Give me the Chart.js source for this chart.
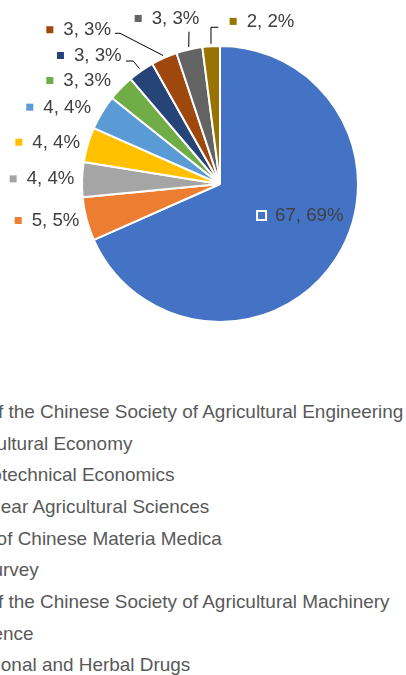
<!DOCTYPE html>
<html>
<head>
<meta charset="utf-8">
<script src="https://cdn.jsdelivr.net/npm/chart.js@4.4.1/dist/chart.umd.min.js"></script>
<style>
  html, body { margin:0; padding:0; background:#ffffff; }
  body { width:406px; height:675px; overflow:hidden; position:relative; font-family:"Liberation Sans", Arial, sans-serif; }
  #wrap { position:absolute; left:0; top:0; width:406px; height:368px; }
  #legend { position:absolute; left:-125.5px; top:396px; }
  .li { position:relative; height:31.67px; line-height:31.67px; font-size:18.94px; color:#595959; white-space:nowrap; }
  .li i { position:absolute; left:-17px; top:12px; width:7px; height:7px; }
</style>
</head>
<body>
<div id="wrap"><canvas id="c" width="406" height="368"></canvas></div>
<div id="legend"></div>
<script>
// ---- data ----
const categories = [
  "Transactions of the Chinese Society of Agricultural Engineering",
  "Issues in Agricultural Economy",
  "Journal of Agrotechnical Economics",
  "Journal of Nuclear Agricultural Sciences",
  "China Journal of Chinese Materia Medica",
  "China Rural Survey",
  "Transactions of the Chinese Society of Agricultural Machinery",
  "Ecological Science",
  "Chinese Traditional and Herbal Drugs",
  "Journal of China Agricultural University"
];
const counts   = [67, 5, 4, 4, 4, 3, 3, 3, 3, 2];
const percents = [69, 5, 4, 4, 4, 3, 3, 3, 3, 2];
const colors = ["#4472C4", "#ED7D31", "#A5A5A5", "#FFC000", "#5B9BD5",
                "#70AD47", "#264478", "#9E480E", "#636363", "#997300"];

// ---- label placement (relative to slice rim mid-point) ----
const labelLayout = [
  { dx: -60.6, dy: -43.5 },
  { dx: -54.8, dy:  1.8 },
  { dx: -55.4, dy: -0.4 },
  { dx: -55.4, dy: -2.2 },
  { dx: -58.7, dy: -5.0 },
  { dx: -57.5, dy: -7.2 },
  { dx: -67.1, dy: -15.0, leader: [52, 5.2, 7.3] },
  { dx: -100.8, dy: -27.8, leader: [51.7, 3.3, 5] },
  { dx: -37.6, dy: -30.7, leader: [37.3, 12.9, 0] },
  { dx:  35.5, dy: -24.6, leader: [-28.4, 5.6, -7.3] }
];

const FONT = '18.67px "Liberation Sans", Arial, sans-serif';

const labelPlugin = {
  id: 'sliceLabels',
  afterDraw(chart) {
    const ctx = chart.ctx;
    const meta = chart.getDatasetMeta(0);
    ctx.save();
    ctx.font = FONT;
    ctx.textBaseline = 'middle';
    ctx.textAlign = 'left';
    meta.data.forEach((arc, i) => {
      const p = arc.getProps(['x', 'y', 'startAngle', 'endAngle', 'outerRadius'], true);
      const mid = (p.startAngle + p.endAngle) / 2;
      const rx = p.x + Math.cos(mid) * p.outerRadius;
      const ry = p.y + Math.sin(mid) * p.outerRadius;
      const lay = labelLayout[i];
      const tx = rx + lay.dx, ty = ry + lay.dy;
      const text = counts[i] + ', ' + percents[i] + '%';
      if (lay.leader) {
        const [sx, sy, len] = lay.leader;
        const x0 = tx + sx, y0 = ty + sy;
        const ex = p.x + Math.cos(mid) * (p.outerRadius + 2.5);
        const ey = p.y + Math.sin(mid) * (p.outerRadius + 2.5);
        ctx.beginPath();
        ctx.strokeStyle = '#000000';
        ctx.lineWidth = 1;
        ctx.moveTo(x0, y0);
        ctx.lineTo(x0 + len, y0);
        ctx.lineTo(ex, ey);
        ctx.stroke();
      }
      const kx = tx - 13.5, ky = ty - 0.3;
      ctx.fillStyle = '#ffffff';
      ctx.fillRect(kx - 5.5, ky - 5.5, 11, 11);
      ctx.fillStyle = colors[i];
      ctx.fillRect(kx - 3.5, ky - 3.5, 7, 7);
      ctx.fillStyle = '#404040';
      ctx.fillText(text, tx, ty);
    });
    ctx.restore();
  }
};

const chart = new Chart(document.getElementById('c'), {
  type: 'pie',
  data: {
    labels: categories,
    datasets: [{
      data: counts,
      backgroundColor: colors,
      borderColor: '#ffffff',
      borderWidth: 2,
      radius: 138
    }]
  },
  options: {
    responsive: false,
    animation: false,
    devicePixelRatio: 1,
    events: [],
    layout: { padding: { top: 45, bottom: 45, left: 81, right: 47 } },
    plugins: { legend: { display: false }, tooltip: { enabled: false } }
  },
  plugins: [labelPlugin]
});

// HTML legend built from the chart's own data
const legendEl = document.getElementById('legend');
chart.data.labels.forEach((lab, i) => {
  const d = document.createElement('div');
  d.className = 'li';
  const k = document.createElement('i');
  k.style.background = chart.data.datasets[0].backgroundColor[i];
  d.appendChild(k);
  d.appendChild(document.createTextNode(lab));
  legendEl.appendChild(d);
});
</script>
</body>
</html>
